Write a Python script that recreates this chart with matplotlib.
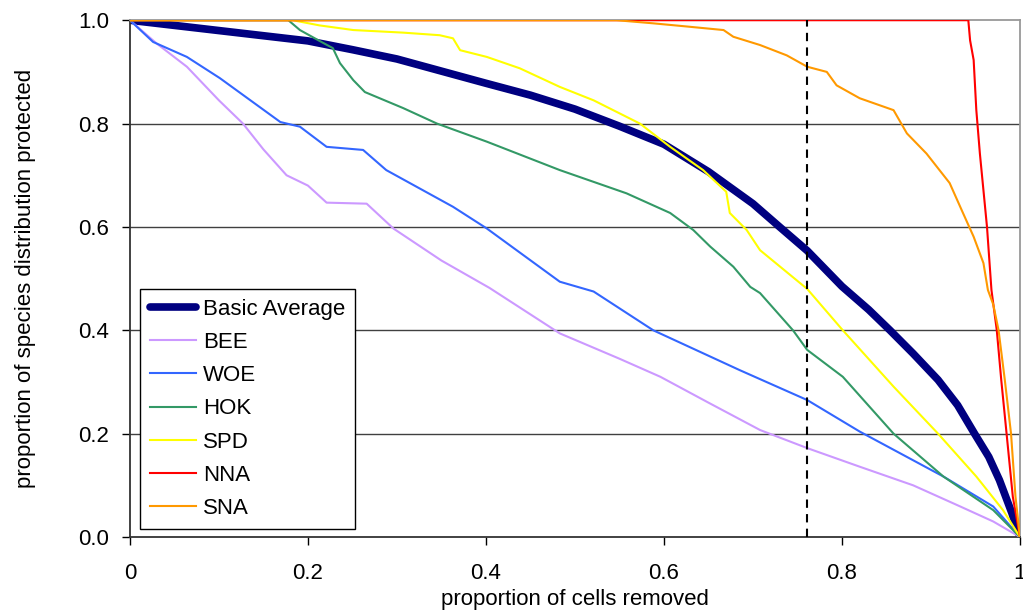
import matplotlib
matplotlib.use("Agg")
import matplotlib.pyplot as plt

plt.rcParams['font.family'] = ['Liberation Sans', 'DejaVu Sans']

# Basic Average
avg_x = [0, 0.05, 0.1, 0.2, 0.25, 0.3, 0.4, 0.45, 0.5, 0.55, 0.6, 0.65, 0.7, 0.73, 0.761, 0.8, 0.83, 0.854, 0.88, 0.908, 0.93, 0.949, 0.965, 0.977, 0.991, 1.0]
avg_y = [1.0, 0.99, 0.98, 0.96, 0.943, 0.925, 0.878, 0.855, 0.828, 0.795, 0.76, 0.707, 0.645, 0.60, 0.554, 0.485, 0.44, 0.40, 0.355, 0.304, 0.255, 0.20, 0.155, 0.11, 0.046, 0.0]

bee_x = [0, 0.03, 0.064, 0.1, 0.127, 0.15, 0.176, 0.2, 0.221, 0.266, 0.296, 0.35, 0.404, 0.483, 0.55, 0.596, 0.65, 0.708, 0.761, 0.82, 0.88, 0.933, 0.97, 1.0]
bee_y = [1.0, 0.955, 0.91, 0.845, 0.80, 0.75, 0.70, 0.68, 0.647, 0.645, 0.597, 0.535, 0.482, 0.394, 0.345, 0.31, 0.26, 0.207, 0.172, 0.136, 0.10, 0.059, 0.03, 0.0]

woe_x = [0, 0.026, 0.064, 0.101, 0.169, 0.191, 0.221, 0.262, 0.288, 0.363, 0.401, 0.483, 0.521, 0.588, 0.685, 0.761, 0.82, 0.914, 0.97, 1.0]
woe_y = [1.0, 0.958, 0.929, 0.888, 0.803, 0.794, 0.755, 0.749, 0.71, 0.639, 0.597, 0.494, 0.475, 0.40, 0.323, 0.265, 0.204, 0.117, 0.059, 0.0]

hok_x = [0, 0.178, 0.191, 0.213, 0.228, 0.236, 0.251, 0.264, 0.307, 0.345, 0.401, 0.483, 0.558, 0.607, 0.633, 0.652, 0.678, 0.697, 0.708, 0.745, 0.761, 0.801, 0.858, 0.914, 0.97, 1.0]
hok_y = [1.0, 1.0, 0.981, 0.96, 0.946, 0.917, 0.884, 0.861, 0.83, 0.80, 0.765, 0.71, 0.665, 0.627, 0.594, 0.562, 0.523, 0.484, 0.472, 0.40, 0.362, 0.31, 0.20, 0.117, 0.052, 0.0]

spd_x = [0, 0.183, 0.213, 0.251, 0.307, 0.348, 0.363, 0.371, 0.401, 0.438, 0.483, 0.521, 0.573, 0.607, 0.644, 0.670, 0.674, 0.693, 0.708, 0.761, 0.801, 0.858, 0.908, 0.951, 0.981, 1.0]
spd_y = [1.0, 1.0, 0.99, 0.981, 0.976, 0.971, 0.965, 0.942, 0.929, 0.907, 0.871, 0.845, 0.80, 0.755, 0.71, 0.668, 0.627, 0.594, 0.555, 0.48, 0.40, 0.291, 0.20, 0.117, 0.052, 0.0]

nna_x = [0, 0.942, 0.944, 0.948, 0.951, 0.955, 0.963, 0.968, 0.974, 0.979, 0.985, 0.992, 1.0]
nna_y = [1.0, 1.0, 0.961, 0.923, 0.826, 0.742, 0.60, 0.478, 0.40, 0.304, 0.20, 0.078, 0.0]

sna_x = [0, 0.547, 0.588, 0.625, 0.667, 0.678, 0.708, 0.738, 0.761, 0.783, 0.794, 0.82, 0.858, 0.873, 0.895, 0.921, 0.936, 0.948, 0.959, 0.964, 0.970, 0.976, 0.983, 0.990, 0.995, 1.0]
sna_y = [1.0, 1.0, 0.994, 0.988, 0.981, 0.968, 0.952, 0.932, 0.91, 0.90, 0.874, 0.849, 0.826, 0.781, 0.742, 0.685, 0.627, 0.581, 0.53, 0.478, 0.45, 0.40, 0.304, 0.20, 0.078, 0.0]

cutoff_x = 0.761

x_ticks = [0, 0.2, 0.4, 0.6, 0.8, 1]
x_ticklabels = ['0', '0.2', '0.4', '0.6', '0.8', '1']
y_ticks = [0.0, 0.2, 0.4, 0.6, 0.8, 1.0]
y_ticklabels = ['0.0', '0.2', '0.4', '0.6', '0.8', '1.0']

fig = plt.figure(figsize=(10.23, 6.13), dpi=100)
ax = fig.add_axes([0.127, 0.124, 0.870, 0.843])

for y in [0.2, 0.4, 0.6, 0.8]:
    ax.axhline(y, color='#404040', lw=1.0, zorder=1)

ax.plot(avg_x, avg_y, color='#000080', lw=5.5, label='Basic Average', zorder=2, solid_capstyle='round')
ax.plot(bee_x, bee_y, color='#CC99FF', lw=1.5, label='BEE', zorder=3)
ax.plot(woe_x, woe_y, color='#3366FF', lw=1.5, label='WOE', zorder=3)
ax.plot(hok_x, hok_y, color='#339966', lw=1.5, label='HOK', zorder=3)
ax.plot(spd_x, spd_y, color='#FFFF00', lw=1.5, label='SPD', zorder=3)
ax.plot(nna_x, nna_y, color='#FF0000', lw=1.5, label='NNA', zorder=3)
ax.plot(sna_x, sna_y, color='#FF9900', lw=1.5, label='SNA', zorder=3)

ax.axvline(cutoff_x, color='black', lw=1.5, ls=(0, (4, 3)), zorder=4)

ax.set_xlim(0, 1)
ax.set_ylim(0, 1)
ax.set_xticks(x_ticks)
ax.set_xticklabels(x_ticklabels)
ax.set_yticks(y_ticks)
ax.set_yticklabels(y_ticklabels)
ax.tick_params(axis='both', labelsize=16, direction='out', length=6, width=1, color='black')
ax.tick_params(axis='x', pad=13)
ax.tick_params(axis='y', pad=9)

for s in ['left', 'bottom']:
    ax.spines[s].set_color('#333333')
    ax.spines[s].set_linewidth(1.3)
for s in ['top', 'right']:
    ax.spines[s].set_color('#999999')
    ax.spines[s].set_linewidth(1.3)

ax.set_xlabel('proportion of cells removed', fontsize=16, labelpad=3)
ax.set_ylabel('proportion of species distribution protected', fontsize=16, labelpad=30)

leg = ax.legend(loc='lower left', bbox_to_anchor=(0.011, 0.0155), borderaxespad=0, fontsize=16,
                frameon=True, fancybox=False, edgecolor='black', framealpha=1,
                handlelength=2.1, handletextpad=0.3, labelspacing=0.55, borderpad=0.45)
leg.get_frame().set_linewidth(1.0)

fig.savefig('out.png', dpi=100)
